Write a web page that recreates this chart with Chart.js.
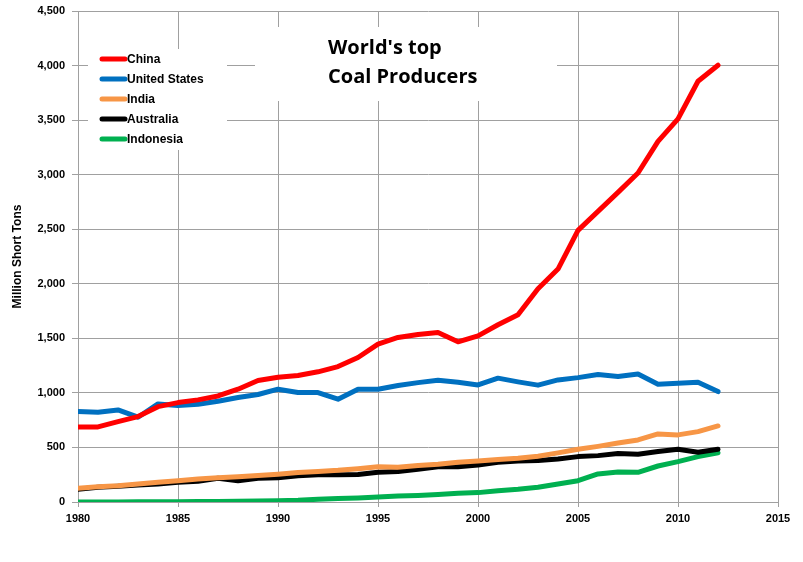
<!DOCTYPE html>
<html>
<head>
<meta charset="utf-8">
<script src="https://cdn.jsdelivr.net/npm/chart.js@4/dist/chart.umd.min.js"></script>
<style>
  html, body { margin: 0; padding: 0; background: #ffffff; }
  #wrap { width: 803px; height: 562px; }
</style>
</head>
<body>
<div id="wrap"><canvas id="c" width="803" height="562"></canvas></div>
<script>
const years = [1980,1981,1982,1983,1984,1985,1986,1987,1988,1989,1990,1991,1992,1993,1994,1995,1996,1997,1998,1999,2000,2001,2002,2003,2004,2005,2006,2007,2008,2009,2010,2011,2012];

const china = [688,688,737,783,874,911,936,972,1034,1113,1144,1159,1193,1241,1324,1447,1508,1535,1553,1468,1523,1624,1716,1955,2135,2490,2663,2838,3015,3305,3511,3856,4003];
const unitedStates = [829,823,844,777,899,884,896,924,957,985,1034,1003,1003,942,1034,1034,1067,1094,1116,1098,1073,1135,1101,1071,1119,1140,1168,1150,1174,1080,1089,1098,1012];
const india = [125,140,150,165,182,195,210,222,232,242,254,270,280,290,305,324,318,335,345,364,376,390,400,420,450,483,510,540,569,624,615,645,697];
const australia = [116,135,145,155,165,180,190,217,195,218,223,240,250,250,252,272,280,300,322,324,339,365,375,380,395,416,425,445,437,462,483,456,483];
const indonesia = [1,1,1,2,3,3,4,5,6,10,12,16,25,31,36,45,55,60,68,80,86,104,116,135,165,195,257,275,272,330,370,416,452];

const seriesNames = ["China","United States","India","Australia","Indonesia"];
const seriesColors = ["#ff0000","#0070c0","#f79646","#000000","#00b050"];
const seriesValues = [china, unitedStates, india, australia, indonesia];

const yTicks = [0,500,1000,1500,2000,2500,3000,3500,4000,4500];
const xTicks = [1980,1985,1990,1995,2000,2005,2010,2015];
const titleLines = ["World's top","Coal Producers"];
const yTitle = "Million Short Tons";

const datasets = seriesNames.map((n,i) => ({
  label: n,
  data: years.map((y,j) => ({x: y, y: seriesValues[i][j]})),
  borderColor: seriesColors[i],
  backgroundColor: seriesColors[i],
  borderWidth: 5,
  pointRadius: 0,
  tension: 0,
  borderCapStyle: 'round',
  borderJoinStyle: 'round',
  fill: false
}));

const overlay = {
  id: 'overlay',
  beforeDatasetsDraw(chart) {
    const ctx = chart.ctx;
    ctx.save();
    ctx.fillStyle = '#ffffff';
    ctx.fillRect(88, 49, 139, 101);
    ctx.fillRect(255, 27, 302, 74);
    ctx.restore();
  },
  afterDatasetsDraw(chart) {
    const ctx = chart.ctx;
    ctx.save();
    ctx.font = 'bold 12px "Liberation Sans", Arial, sans-serif';
    ctx.textBaseline = 'middle';
    chart.data.datasets.forEach((ds, i) => {
      const y = 59 + i * 20;
      ctx.strokeStyle = ds.borderColor;
      ctx.lineWidth = 5;
      ctx.lineCap = 'round';
      ctx.beginPath();
      ctx.moveTo(102, y);
      ctx.lineTo(125, y);
      ctx.stroke();
      ctx.fillStyle = '#000000';
      ctx.fillText(ds.label, 127, y + 1);
    });
    ctx.font = 'bold 20px "Open Sans", "Liberation Sans", sans-serif';
    ctx.fillStyle = '#000000';
    ctx.textBaseline = 'middle';
    ctx.fillText(titleLines[0], 328, 48);
    ctx.fillText(titleLines[1], 328, 77);
    ctx.restore();
  }
};

new Chart(document.getElementById('c'), {
  type: 'line',
  data: { datasets },
  plugins: [overlay],
  options: {
    responsive: false,
    animation: false,
    layout: { padding: { top: 11, right: 25, left: 0, bottom: 0 } },
    plugins: { legend: { display: false }, tooltip: { enabled: false }, title: { display: false } },
    scales: {
      x: {
        type: 'linear',
        min: 1980, max: 2015,
        afterBuildTicks(axis) { axis.ticks = xTicks.map(v => ({value: v})); },
        afterFit(axis) { axis.height = 60; },
        grid: { color: '#a0a0a0', lineWidth: 1, tickLength: 5, drawOnChartArea: true },
        border: { color: '#a0a0a0', width: 1 },
        ticks: {
          color: '#000000', padding: 5,
          font: { family: '"Liberation Sans", Arial, sans-serif', size: 11, weight: 'bold' },
          callback: v => String(v)
        }
      },
      y: {
        min: 0, max: 4500,
        afterBuildTicks(axis) { axis.ticks = yTicks.map(v => ({value: v})); },
        afterFit(axis) { axis.width = 78; axis.paddingTop = 0; axis.paddingBottom = 0; },
        grid: { color: '#a0a0a0', lineWidth: 1, tickLength: 6 },
        border: { color: '#a0a0a0', width: 1 },
        title: {
          display: true, text: yTitle, color: '#000000', padding: { top: 10, bottom: 4 },
          font: { family: '"Liberation Sans", Arial, sans-serif', size: 12, weight: 'bold' }
        },
        ticks: {
          color: '#000000', padding: 7,
          font: { family: '"Liberation Sans", Arial, sans-serif', size: 11, weight: 'bold' },
          callback: v => v.toLocaleString('en-US')
        }
      }
    }
  }
});
</script>
</body>
</html>
